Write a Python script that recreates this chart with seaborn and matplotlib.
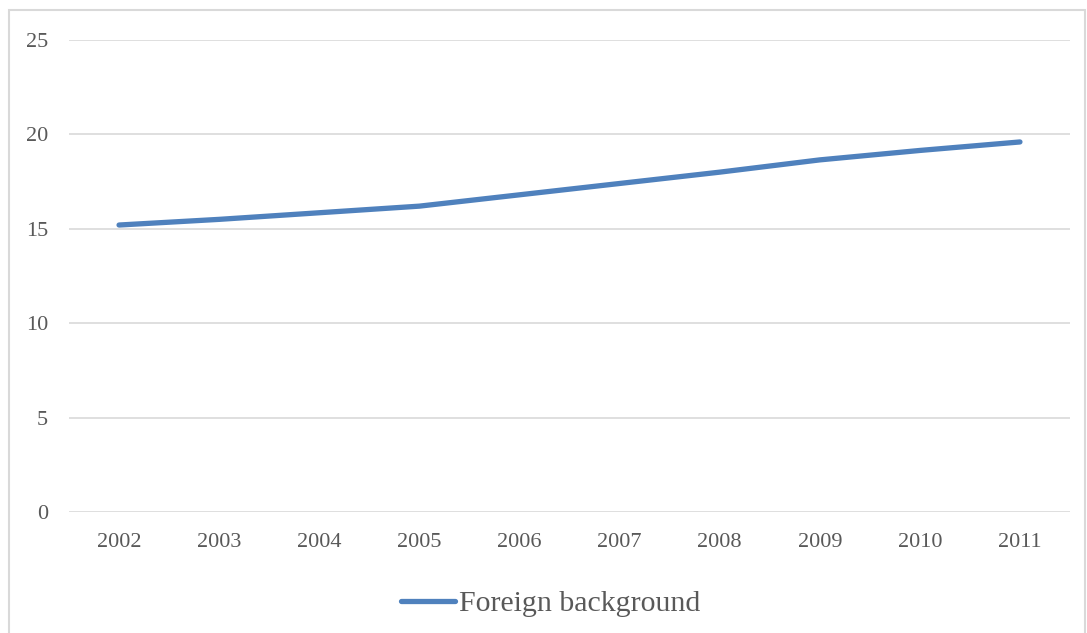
import matplotlib
matplotlib.use("Agg")
import matplotlib.pyplot as plt
import matplotlib.patches as mpatches
import seaborn as sns
import pandas as pd

years = [2002, 2003, 2004, 2005, 2006, 2007, 2008, 2009, 2010, 2011]
foreign_background = [15.2, 15.5, 15.85, 16.2, 16.8, 17.4, 18.0, 18.65, 19.15, 19.6]
y_ticks = [0, 5, 10, 15, 20, 25]
series_name = "Foreign background"

df = pd.DataFrame({"year": years, "value": foreign_background, "series": series_name})

sns.set_theme(style="white")
plt.rcParams["font.family"] = ["Liberation Serif", "DejaVu Serif"]

W, H = 1087, 633
fig = plt.figure(figsize=(W / 100, H / 100), dpi=100)
ax = fig.add_axes([69 / W, 1 - 512 / H, (1070 - 69) / W, (512 - 40) / H])

sns.lineplot(data=df, x="year", y="value", hue="series", palette=["#4f81bd"],
             linewidth=3.8, ax=ax, legend=False, solid_capstyle="round")

ax.set_xlim(years[0] - 0.5, years[-1] + 0.5)
ax.set_ylim(0, 25)
ax.set_xticks(years)
ax.set_xticklabels([str(y) for y in years])
ax.set_yticks(y_ticks)
ax.set_xlabel("")
ax.set_ylabel("")
ax.grid(axis="y", color="#d9d9d9", linewidth=1.2)
ax.grid(axis="x", visible=False)
for s in ax.spines.values():
    s.set_visible(False)
ax.tick_params(axis="both", length=0, labelsize=16, labelcolor="#595959")
ax.tick_params(axis="y", pad=15)
ax.tick_params(axis="x", pad=15)

# outer chart frame
frame = mpatches.Rectangle((9 / W, -0.1), (1085 - 9) / W, 1 - 10 / H + 0.1,
                           transform=fig.transFigure, fill=False,
                           edgecolor="#d9d9d9", linewidth=1.5)
fig.patches.append(frame)

handle = plt.Line2D([], [], color="#4f81bd", linewidth=3.8, solid_capstyle="round")
fig.legend([handle], [series_name], loc="center", bbox_to_anchor=(551 / W, 1 - 604 / H),
           frameon=False, fontsize=21.5, labelcolor="#595959", handlelength=1.8,
           handletextpad=0.15)

fig.savefig("out.png", dpi=100)
